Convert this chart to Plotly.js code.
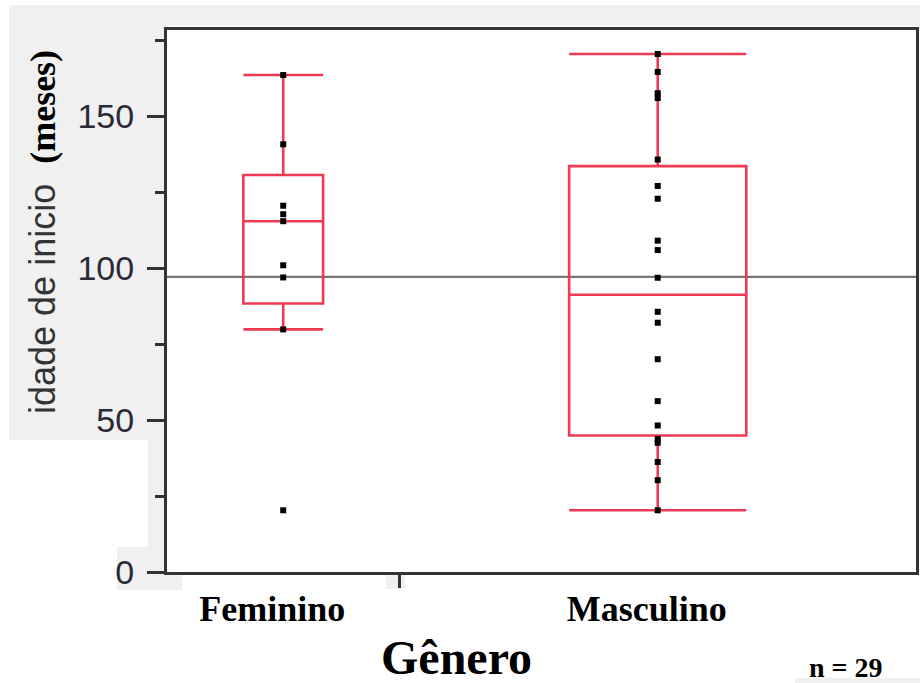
<!DOCTYPE html>
<html><head><meta charset="utf-8">
<script src="https://cdn.plot.ly/plotly-3.0.1.min.js"></script>
<style>html,body{margin:0;padding:0;background:#fff;}#chart{width:920px;height:683px;}</style>
</head><body><div id="chart"></div>
<script>
// ---- data ----
const categories = ["Feminino", "Masculino"];
const feminino = [163.5, 140.7, 120.5, 117.7, 115.4, 100.9, 96.9, 79.8, 20.3];
const masculino = [170.4, 164.5, 157.5, 155.9, 135.7, 127.0, 122.8, 109.0, 105.9, 96.8,
                   85.6, 82.0, 70.0, 56.2, 48.2, 43.8, 42.5, 36.2, 30.2, 20.3];
const yTickVals = [0, 50, 100, 150];
const yTickText = ["0", "50", "100", "150"];
const yTitleMain = "idade de inicio";
const yTitleUnit = "(meses)";
const xTitle = "Gênero";

// ---- layout geometry ----
const W = 920, H = 683;
const M = {l: 167, r: 4, t: 30, b: 111};
const plotW = W - M.l - M.r, plotH = H - M.t - M.b;
const px = v => (v - M.l) / plotW;
const py = v => (H - M.b - v) / plotH;

// ---- stats (JMP style quantiles, (n+1)p) ----
function quant(s, p) {
  const n = s.length; const pos = (n + 1) * p;
  if (pos <= 1) return s[0];
  if (pos >= n) return s[n - 1];
  const lo = Math.floor(pos), f = pos - lo;
  return s[lo - 1] + f * (s[lo] - s[lo - 1]);
}
function stats(arr) {
  const s = arr.slice().sort((a, b) => a - b);
  const q1 = quant(s, 0.25), med = quant(s, 0.5), q3 = quant(s, 0.75);
  const iqr = q3 - q1;
  const lf = s.filter(v => v >= q1 - 1.5 * iqr)[0];
  const inUp = s.filter(v => v <= q3 + 1.5 * iqr);
  const uf = inUp[inUp.length - 1];
  return {q1, med, q3, lf, uf};
}

const groups = [feminino, masculino];
const counts = groups.map(g => g.length);
const total = counts.reduce((a, b) => a + b, 0);
const centers = [], boundaries = [];
let acc = 0;
counts.forEach((c, i) => { centers.push(acc + c / 2); acc += c; if (i < counts.length - 1) boundaries.push(acc); });
const allVals = groups.flat();
const mean = allVals.reduce((a, b) => a + b, 0) / allVals.length;

const red = '#ee3a52';
const traces = [];
groups.forEach((g, i) => {
  const s = stats(g);
  traces.push({
    type: 'box', orientation: 'v', x: [centers[i]],
    q1: [s.q1], median: [s.med], q3: [s.q3], lowerfence: [s.lf], upperfence: [s.uf],
    width: counts[i] * 0.343, whiskerwidth: 1, boxpoints: false,
    line: {color: red, width: 2.6}, fillcolor: 'rgba(0,0,0,0)',
    showlegend: false, hoverinfo: 'skip'
  });
});
groups.forEach((g, i) => {
  traces.push({
    type: 'scatter', mode: 'markers',
    x: g.map(() => centers[i]), y: g,
    marker: {symbol: 'square', size: 6, color: '#000'},
    showlegend: false, hoverinfo: 'y'
  });
});

const gray = '#f0f0f0';
const bgRects = [
  [9, 5, 920, 26], [9, 5, 166, 440], [148, 440, 166, 547],
  [117, 547, 166, 590], [166, 575, 182, 590], [386, 575, 405, 589], [795, 678, 920, 683]
];
const shapes = bgRects.map(r => ({
  type: 'rect', xref: 'paper', yref: 'paper', layer: 'below',
  x0: px(r[0]), x1: px(r[2]), y0: py(r[3]), y1: py(r[1]),
  fillcolor: gray, line: {width: 0}
}));
shapes.push({type: 'line', xref: 'paper', x0: 0, x1: 1, yref: 'y', y0: mean, y1: mean,
  line: {color: '#777777', width: 2.2}, layer: 'below'});

const layout = {
  width: W, height: H, margin: M,
  paper_bgcolor: '#fff', plot_bgcolor: '#fff', showlegend: false,
  xaxis: {
    range: [0, total], tickmode: 'array', tickvals: centers, ticktext: categories,
    ticks: '', showline: true, mirror: true, linecolor: '#333', linewidth: 3,
    showgrid: false, zeroline: false, fixedrange: true,
    tickfont: {family: 'Liberation Serif', size: 36, color: '#000', weight: 'bold'},
    ticklabelshift: -11, ticklabelstandoff: 3,
    minor: {tickmode: 'array', tickvals: boundaries, ticks: 'outside', ticklen: 13, tickwidth: 2.5, tickcolor: '#333', showgrid: false}
  },
  yaxis: {
    range: [0, 178.3], tickmode: 'array', tickvals: yTickVals, ticktext: yTickText,
    ticks: 'outside', ticklen: 17, tickwidth: 3, tickcolor: '#333',
    showline: true, mirror: true, linecolor: '#333', linewidth: 3,
    showgrid: false, zeroline: false, fixedrange: true,
    tickfont: {family: 'Liberation Sans', size: 34, color: '#2a2a36'},
    ticklabelstandoff: 6,
    minor: {tickmode: 'linear', tick0: 0, dtick: 25, ticks: 'outside', ticklen: 9, tickwidth: 3, tickcolor: '#333', showgrid: false}
  },
  shapes: shapes,
  annotations: [
    {xref: 'paper', yref: 'paper', x: px(43), y: py(232), xanchor: 'center', yanchor: 'middle',
     textangle: -90, showarrow: false,
     text: yTitleMain + '  <span style="font-family:\'Liberation Serif\';font-weight:bold;fill:#000;">' + yTitleUnit + '</span>',
     font: {family: 'Liberation Sans', size: 36, color: '#333'}},
    {xref: 'paper', yref: 'paper', x: px(456), y: py(657), xanchor: 'center', yanchor: 'middle',
     showarrow: false, text: xTitle,
     font: {family: 'Liberation Serif', size: 48, color: '#000', weight: 'bold'}},
    {xref: 'paper', yref: 'paper', x: px(846), y: py(667), xanchor: 'center', yanchor: 'middle',
     showarrow: false, text: 'n = ' + total,
     font: {family: 'Liberation Serif', size: 28, color: '#000', weight: 'bold'}}
  ]
};

Plotly.newPlot('chart', traces, layout, {displayModeBar: false, staticPlot: true});
</script>
</body></html>
